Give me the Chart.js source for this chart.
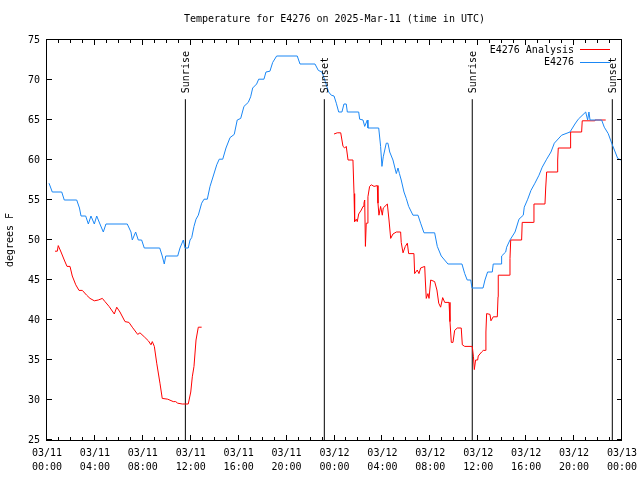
<!DOCTYPE html>
<html><head><meta charset="utf-8">
<script src="https://cdn.jsdelivr.net/npm/chart.js@4"></script>
<style>html,body{margin:0;padding:0;background:#fff}canvas{display:block}</style>
</head><body>
<canvas id="c" width="640" height="480" style="width:640px;height:480px"></canvas>
<script>
const titleText = 'Temperature for E4276 on 2025-Mar-11 (time in UTC)';
const yAxisLabel = 'degrees F';
const seriesNames = ['E4276 Analysis', 'E4276'];
const xTickDates = ['03/11','03/11','03/11','03/11','03/11','03/11','03/12','03/12','03/12','03/12','03/12','03/12','03/13'];
const xTickTimes = ['00:00','04:00','08:00','12:00','16:00','20:00','00:00','04:00','08:00','12:00','16:00','20:00','00:00'];
const sunTimes = [11.55, 23.15, 35.50, 47.19];
const sunLabels = ['Sunrise', 'Sunset', 'Sunrise', 'Sunset'];
const sunLineTop = 67.6;

// hours since 03/11 00:00 UTC, degrees F
const observed = [
 [0.17,57.1],[0.44,56],[1.23,56],[1.44,55],[2.48,55],[2.71,54],[2.84,53],[3.23,53],[3.45,52],[3.67,53],
 [3.95,52],[4.15,53],[4.42,52],[4.70,51],[4.92,52],[6.70,52],[7.01,51],[7.12,50],[7.40,51],[7.62,50],
 [7.90,50],[8.12,49],[9.41,49],[9.62,48],[9.79,47],[9.91,48],[10.91,48],[11.10,49],[11.38,50],[11.52,49],
 [11.79,49],[11.94,50],[12.08,50.3],[12.27,51.7],[12.44,52.6],[12.63,53.1],[12.91,54.6],[13.11,55.1],[13.38,55.1],[13.61,56.7],
 [13.88,58],[14.17,59.4],[14.38,60.1],[14.67,60.1],[14.94,61.5],[15.28,62.8],[15.63,63.2],[15.88,65],[16.17,65.2],[16.44,66.7],
 [16.80,67.2],[17.00,67.9],[17.17,69],[17.50,69.5],[17.67,70.1],[18.11,70.1],[18.28,71],[18.61,71.1],[18.84,72.2],[19.17,73],
 [20.89,73],[21.12,72],[22.37,72],[22.65,71.2],[22.95,71],[23.23,69.8],[23.51,68.5],[23.73,68.1],[23.96,68],[24.15,67.1],
 [24.35,66],[24.62,66],[24.79,67],[24.98,67],[25.07,66],[26.02,66],[26.10,65.1],[26.38,65],[26.52,64.2],[26.74,65],
 [26.79,64],[27.69,64],[27.85,61.7],[27.96,59.2],[28.07,60.4],[28.32,62.1],[28.46,62.1],[28.61,61],[28.88,60],[29.16,58.3],
 [29.30,59],[29.42,58.3],[29.57,57.5],[29.80,56],[29.99,55.2],[30.19,54.2],[30.55,53.1],[30.97,53.1],[31.19,52.1],[31.47,50.9],
 [32.36,50.9],[32.58,49.2],[32.91,48],[33.47,47],[34.64,47],[34.87,45.8],[35.08,45],[35.37,45],[35.48,44],[36.40,44],
 [36.56,45],[36.78,46],[37.17,46],[37.25,47],[37.90,47],[37.95,48],[38.29,48.5],[38.37,49.1],[38.65,50],[39.07,51],
 [39.40,52.6],[39.76,53.1],[39.84,54.1],[40.13,55.1],[40.40,56.2],[40.73,57.1],[41.07,58.1],[41.34,59.1],[41.71,60.1],[42.07,61],
 [42.35,62.1],[42.96,63.1],[43.66,63.5],[44.07,64.5],[44.35,65.1],[44.97,66],[45.13,65],[45.24,66],[45.33,65],[46.30,65],
 [46.52,64.1],[46.85,63.3],[47.14,62.1],[47.64,60.2],[47.91,60]
];

const analysis = [
 [0.67,48.6],[0.86,48.6],[0.94,49.3],[1.17,48.5],[1.44,47.5],[1.67,46.7],[1.92,46.7],[2.11,45.5],[2.40,44.4],[2.67,43.7],
 [2.95,43.7],[3.31,43.1],[3.59,42.7],[3.95,42.4],[4.28,42.5],[4.62,42.7],[4.84,42.3],[5.18,41.7],[5.62,40.75],[5.82,41.6],
 [6.09,41],[6.51,39.8],[6.84,39.7],[7.12,39.1],[7.57,38.2],[7.76,38.4],[8.12,37.9],[8.46,37.4],[8.68,36.9],[8.79,37.3],
 [8.96,36.7],[9.16,34.6],[9.43,32.1],[9.62,30.2],[10.08,30.1],[10.54,29.8],[10.74,29.8],[10.91,29.6],[11.29,29.5],[11.79,29.5],
 [12.00,31],[12.13,32.9],[12.27,34.2],[12.44,37.5],[12.63,39.1],[12.91,39.1],
 [18.00,null],
 [23.96,63.25],[24.23,63.4],[24.52,63.4],[24.62,62.5],[24.71,61.7],[24.85,61.5],[24.98,61.7],[25.13,60],[25.54,60],[25.63,55.8],
 [25.68,52.3],[25.82,52.6],[25.90,52.3],[26.02,53.25],[26.24,53.75],[26.38,54.2],[26.46,54.6],[26.52,55],[26.58,49.2],[26.65,52.1],
 [26.74,52.1],[26.79,55.4],[26.93,56.7],[27.07,56.9],[27.30,56.7],[27.57,56.8],[27.63,54.6],[27.71,53.1],[27.85,54.2],[27.99,53.1],
 [28.07,54],[28.41,54.5],[28.55,52.5],[28.69,50.2],[28.88,50.75],[29.16,51],[29.52,51],[29.57,49.7],[29.72,48.4],[29.91,49.2],
 [30.08,49.6],[30.19,48.3],[30.63,48.3],[30.69,45.8],[30.91,46.25],[31.05,45.8],[31.19,46.5],[31.53,46.7],[31.58,45],[31.66,42.7],
 [31.80,43.3],[31.89,42.7],[32.03,45],[32.36,44.8],[32.55,43.75],[32.70,42.1],[32.86,41.6],[33.03,42.8],[33.20,42.2],[33.56,42.2],
 [33.64,39.8],[33.75,37.2],[33.89,37.2],[34.03,38.7],[34.25,39],[34.58,39],[34.67,36.9],[34.87,36.7],[35.50,36.7],[35.60,35.4],
 [35.67,33.8],[35.78,35],[35.95,35],[36.00,35.5],[36.14,35.75],[36.28,36],[36.42,36.2],[36.62,36.2],[36.64,38.5],[36.70,40.8],
 [36.98,40.7],[37.06,39.9],[37.25,40.4],[37.59,40.4],[37.65,42.9],[37.67,45.6],[38.59,45.6],[38.65,47.7],[38.71,50],[39.62,50],
 [39.67,52.2],[40.59,52.2],[40.65,54.5],[41.57,54.5],[41.63,56.5],[41.71,58.5],[42.60,58.5],[42.63,60],[42.68,61.5],[43.66,61.5],
 [43.71,63.5],[44.63,63.5],[44.68,64.9],[45.69,64.9],[45.74,65],[46.64,65]
];

const FONT = "'DejaVu Sans Mono', 'Liberation Mono', monospace";
const RED = '#ff0000';
const BLUE = '#1a87f5';
const toPts = arr => arr.map(p => ({x: p[0], y: p[1]}));

const decor = {
  id: 'decor',
  afterDatasetsDraw(chart) {
    const ctx = chart.ctx, a = chart.chartArea;
    const xs = chart.scales.x, ys = chart.scales.y;
    ctx.save();
    ctx.strokeStyle = '#000';
    ctx.lineWidth = 1;
    // frame
    ctx.strokeRect(a.left - 0.5, a.top - 0.5, a.right - a.left, a.bottom - a.top + 1);
    // x ticks (inward, top & bottom)
    ctx.beginPath();
    for (let h = 0; h <= 48; h++) {
      const px = Math.round(xs.getPixelForValue(h)) - 0.5;
      const len = h % 4 === 0 ? 5 : 3;
      ctx.moveTo(px, a.bottom); ctx.lineTo(px, a.bottom - len);
      ctx.moveTo(px, a.top); ctx.lineTo(px, a.top + len);
    }
    for (let v = 25; v <= 75; v += 5) {
      const py = Math.round(ys.getPixelForValue(v)) - 0.5;
      ctx.moveTo(a.left, py); ctx.lineTo(a.left + 5, py);
      ctx.moveTo(a.right, py); ctx.lineTo(a.right - 5, py);
    }
    ctx.stroke();
    // sun labels
    ctx.fillStyle = '#000';
    ctx.font = '10px ' + FONT;
    sunTimes.forEach((t, i) => {
      const px = xs.getPixelForValue(t);
      const py = ys.getPixelForValue(sunLineTop) - 6;
      ctx.save();
      ctx.translate(px + 1, py);
      ctx.rotate(-Math.PI / 2);
      ctx.textAlign = 'left';
      ctx.textBaseline = 'middle';
      ctx.fillText(sunLabels[i], 0, 0);
      ctx.restore();
    });
    // legend
    ctx.textAlign = 'right';
    ctx.textBaseline = 'middle';
    const rows = [[seriesNames[0], RED, 50], [seriesNames[1], BLUE, 62.5]];
    rows.forEach(([name, col, y]) => {
      ctx.fillStyle = '#000';
      ctx.fillText(name, 574, y);
      ctx.strokeStyle = col;
      ctx.beginPath();
      ctx.moveTo(580, Math.round(y) - 0.5);
      ctx.lineTo(610, Math.round(y) - 0.5);
      ctx.stroke();
    });
    // title
    ctx.textAlign = 'center';
    ctx.fillStyle = '#000';
    ctx.fillText(titleText, (a.left + a.right) / 2, 19);
    // y axis label
    ctx.save();
    ctx.translate(10, (a.top + a.bottom) / 2);
    ctx.rotate(-Math.PI / 2);
    ctx.fillText(yAxisLabel, 0, 0);
    ctx.restore();
    ctx.restore();
  }
};

const lineDs = (label, data, color) => ({
  label, data: toPts(data), borderColor: color, backgroundColor: color,
  borderWidth: 1, pointRadius: 0, tension: 0, spanGaps: false, fill: false
});

new Chart(document.getElementById('c'), {
  type: 'line',
  data: {
    datasets: [
      lineDs(seriesNames[1], observed, BLUE),
      lineDs(seriesNames[0], analysis, RED),
      ...sunTimes.map((t, i) => lineDs(sunLabels[i], [[t, 25], [t, sunLineTop]], '#000'))
    ]
  },
  options: {
    responsive: false, animation: false, devicePixelRatio: 1,
    layout: {padding: {top: 40, right: 18, left: 0, bottom: 0}},
    plugins: {legend: {display: false}, tooltip: {enabled: false}, title: {display: false}},
    scales: {
      x: {
        type: 'linear', min: 0, max: 48,
        afterFit(s) { s.height = 40; s.paddingLeft = 0; s.paddingRight = 0; },
        grid: {display: false, drawTicks: false}, border: {display: false},
        ticks: {
          stepSize: 4, autoSkip: false, maxRotation: 0, minRotation: 0, color: '#000', padding: 6,
          font: {family: FONT, size: 10, lineHeight: 1.4},
          callback: v => { const i = Math.round(v / 4); return [xTickDates[i], xTickTimes[i]]; }
        }
      },
      y: {
        min: 25, max: 75,
        afterFit(s) { s.width = 47; s.paddingTop = 0; s.paddingBottom = 0; },
        grid: {display: false, drawTicks: false}, border: {display: false},
        ticks: {stepSize: 5, color: '#000', padding: 7, font: {family: FONT, size: 10}}
      }
    }
  },
  plugins: [decor]
});
</script>
</body></html>
